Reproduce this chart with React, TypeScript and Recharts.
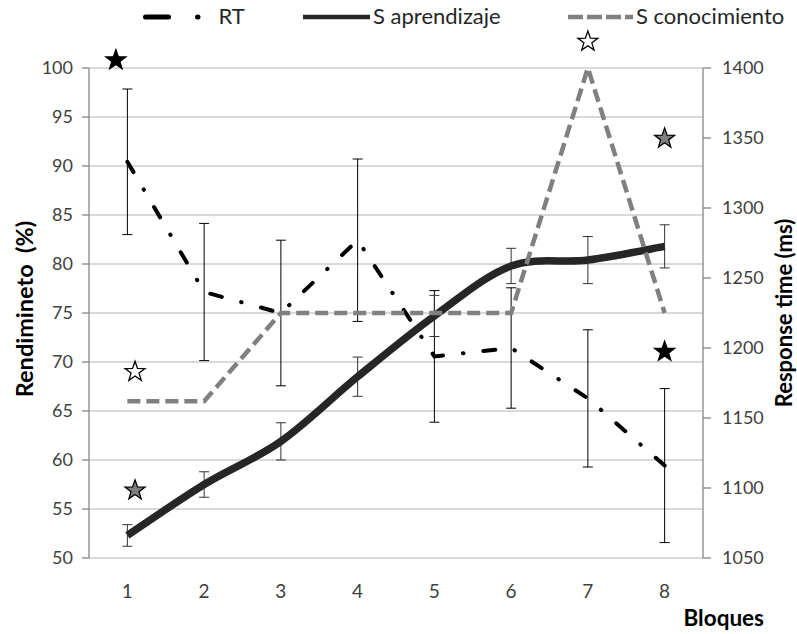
import React from 'react';
import {
  ComposedChart,
  Line,
  XAxis,
  YAxis,
  CartesianGrid,
  ErrorBar,
  Label,
  ReferenceDot,
} from 'recharts';

// Bloques 1..8
const bloques = [1, 2, 3, 4, 5, 6, 7, 8];

// RT (ms, right axis)
const rtMs = [1333, 1240, 1225, 1277, 1194, 1200, 1164, 1116];
const rtErr = [52, 49, 52, 58, 47, 43, 49, 55];

// S aprendizaje (%, left axis)
const sAprendizaje = [52.3, 57.5, 61.9, 68.5, 74.7, 79.8, 80.4, 81.8];
const sAprendizajeErr = [1.1, 1.3, 1.9, 2.0, 2.1, 1.8, 2.4, 2.2];

// S conocimiento (%, left axis)
const sConocimiento = [66, 66, 75, 75, 75, 75, 100, 75];

// significance stars, x in bloque units, y in %
const starsBlack = [
  { bloque: 0.85, valor: 100.8 },
  { bloque: 8, valor: 71.05 },
];
const starsWhite = [
  { bloque: 1.1, valor: 69.0 },
  { bloque: 7, valor: 102.7 },
];
const starsGray = [
  { bloque: 1.1, valor: 56.9 },
  { bloque: 8, valor: 92.8 },
];

const leftTicks = [50, 55, 60, 65, 70, 75, 80, 85, 90, 95, 100];
const rightTicks = [1050, 1100, 1150, 1200, 1250, 1300, 1350, 1400];
const blockEdges = [0.5, 1.5, 2.5, 3.5, 4.5, 5.5, 6.5, 7.5, 8.5];

const data = bloques.map((b, i) => ({
  bloque: b,
  rt: rtMs[i],
  rtErr: rtErr[i],
  apr: sAprendizaje[i],
  aprErr: sAprendizajeErr[i],
  con: sConocimiento[i],
}));

const FONT = 'Lato, "Open Sans", sans-serif';
const AXIS = '#868686';
const GRID = '#b4b4b4';
const TEXT = '#404040';

const RT_DASH = '12 20 0.5 20';
const CON_DASH = '13 6';

// Catmull-Rom style smoothing (like a spreadsheet "smoothed line")
const smoothCurve = (context: any) => {
  let pts: [number, number][] = [];
  return {
    areaStart() {},
    areaEnd() {},
    lineStart() {
      pts = [];
    },
    lineEnd() {
      if (!pts.length) return;
      context.moveTo(pts[0][0], pts[0][1]);
      const t = 1 / 6;
      for (let i = 0; i < pts.length - 1; i++) {
        const p0 = pts[i - 1] || pts[i];
        const p1 = pts[i];
        const p2 = pts[i + 1];
        const p3 = pts[i + 2] || p2;
        context.bezierCurveTo(
          p1[0] + (p2[0] - p0[0]) * t,
          p1[1] + (p2[1] - p0[1]) * t,
          p2[0] - (p3[0] - p1[0]) * t,
          p2[1] - (p3[1] - p1[1]) * t,
          p2[0],
          p2[1],
        );
      }
    },
    point(x: number, y: number) {
      pts.push([+x, +y]);
    },
  };
};

const starPoints = (cx: number, cy: number, R: number, r: number) => {
  const pts: string[] = [];
  for (let i = 0; i < 10; i++) {
    const a = -Math.PI / 2 + (i * Math.PI) / 5;
    const rad = i % 2 === 0 ? R : r;
    pts.push(`${cx + rad * Math.cos(a)},${cy + rad * Math.sin(a)}`);
  }
  return pts.join(' ');
};

const makeStar = (fill: string, stroke: string) => (props: any) => {
  const { cx, cy } = props;
  if (cx == null || cy == null) return <g />;
  return (
    <polygon
      points={starPoints(cx, cy, 10.5, 4.2)}
      fill={fill}
      stroke={stroke}
      strokeWidth={1.3}
    />
  );
};

const LegendItem = ({
  left,
  width,
  lineTo,
  color,
  strokeWidth,
  dash,
  cap,
  text,
}: {
  left: number;
  width: number;
  lineTo: number;
  color: string;
  strokeWidth: number;
  dash?: string;
  cap?: 'round' | 'butt';
  text: string;
}) => (
  <div style={{ position: 'absolute', left, top: 3, display: 'flex', alignItems: 'center' }}>
    <svg width={width} height={26}>
      <line
        x1={cap === 'round' ? strokeWidth / 2 : 0}
        y1={14}
        x2={lineTo}
        y2={14}
        stroke={color}
        strokeWidth={strokeWidth}
        strokeDasharray={dash}
        strokeLinecap={cap || 'butt'}
      />
    </svg>
    <span style={{ fontFamily: FONT, fontSize: 22, color: '#262626', marginLeft: 2, lineHeight: '26px' }}>
      {text}
    </span>
  </div>
);

const AxisTitle = ({ x, cy, size, text }: { x: number; cy: number; size: number; text: string }) => (
  <text
    x={x}
    y={cy}
    transform={`rotate(-90 ${x} ${cy})`}
    textAnchor="middle"
    dominantBaseline="central"
    fontFamily={FONT}
    fontWeight={700}
    fontSize={size}
    fill="#000"
  >
    {text}
  </text>
);

const renderStars = (list: { bloque: number; valor: number }[], fill: string, key: string) =>
  list.map((s, i) => (
    <ReferenceDot
      key={`${key}-${i}`}
      xAxisId="b"
      yAxisId="L"
      x={s.bloque}
      y={s.valor}
      r={10}
      ifOverflow="visible"
      shape={makeStar(fill, '#000')}
    />
  ));

export default function App() {
  return (
    <div style={{ position: 'absolute', left: 0, top: 0, width: 797, height: 634, background: '#fff' }}>
      <LegendItem left={142.5} width={74} lineTo={56} color="#000" strokeWidth={5} dash="23 29 0.5 40" cap="round" text="RT" />
      <LegendItem left={303} width={68} lineTo={67} color="#262626" strokeWidth={4.5} text="S aprendizaje" />
      <LegendItem left={568} width={66} lineTo={65} color="#808080" strokeWidth={4.5} dash="15 4" text="S conocimiento" />

      <ComposedChart
        width={797}
        height={634}
        data={data}
        margin={{ top: 68, right: 0, bottom: 50, left: 0 }}
      >
        <CartesianGrid
          vertical={false}
          stroke={GRID}
          strokeWidth={1.2}
          yAxisId="L"
          xAxisId="b"
        />
        <XAxis
          xAxisId="tk"
          dataKey="bloque"
          type="number"
          domain={[0.5, 8.5]}
          ticks={blockEdges}
          height={0}
          tickSize={8}
          tickFormatter={() => ''}
          axisLine={{ stroke: AXIS, strokeWidth: 1.3 }}
          tickLine={{ stroke: AXIS, strokeWidth: 1.3 }}
        />
        <XAxis
          xAxisId="b"
          dataKey="bloque"
          type="number"
          domain={[0.5, 8.5]}
          ticks={bloques}
          height={26}
          axisLine={false}
          tickLine={false}
          tickSize={8}
          tickMargin={19}
          tick={{ fontFamily: FONT, fontSize: 19, fill: TEXT }}
        >
          <Label
            content={({ viewBox }: any) => (
              <text
                x={viewBox.x + viewBox.width + 61}
                y={626}
                textAnchor="end"
                fontFamily={FONT}
                fontWeight={700}
                fontSize={22.5}
                fill="#000"
              >
                Bloques
              </text>
            )}
          />
        </XAxis>
        <YAxis
          yAxisId="L"
          orientation="left"
          width={89}
          type="number"
          domain={[50, 100]}
          ticks={leftTicks}
          interval={0}
          tickSize={7}
          tickMargin={9}
          axisLine={{ stroke: AXIS, strokeWidth: 1.3 }}
          tickLine={{ stroke: AXIS, strokeWidth: 1.3 }}
          tick={{ fontFamily: FONT, fontSize: 18, fill: TEXT }}
        >
          <Label
            content={({ viewBox }: any) => (
              <AxisTitle x={24} cy={viewBox.y + viewBox.height / 2 - 4} size={23.5} text={'Rendimineto\u00a0 (%)'} />
            )}
          />
        </YAxis>
        <YAxis
          yAxisId="R"
          orientation="right"
          width={94}
          type="number"
          domain={[1050, 1400]}
          ticks={rightTicks}
          interval={0}
          tickSize={8}
          tickMargin={11}
          axisLine={{ stroke: AXIS, strokeWidth: 1.3 }}
          tickLine={{ stroke: AXIS, strokeWidth: 1.3 }}
          tick={{ fontFamily: FONT, fontSize: 18, fill: TEXT }}
        >
          <Label
            content={({ viewBox }: any) => (
              <AxisTitle x={783} cy={viewBox.y + viewBox.height / 2} size={22} text="Response time (ms)" />
            )}
          />
        </YAxis>

        <Line
          xAxisId="b"
          yAxisId="R"
          type="linear"
          dataKey="rt"
          stroke="#000"
          strokeWidth={4}
          strokeDasharray={RT_DASH}
          strokeLinecap="round"
          dot={false}
          activeDot={false}
          isAnimationActive={false}
        >
          <ErrorBar dataKey="rtErr" direction="y" width={5} stroke="#000" strokeWidth={1} />
        </Line>
        <Line
          xAxisId="b"
          yAxisId="L"
          type={smoothCurve as any}
          dataKey="apr"
          stroke="#262626"
          strokeWidth={7.5}
          dot={false}
          activeDot={false}
          isAnimationActive={false}
        >
          <ErrorBar dataKey="aprErr" direction="y" width={5} stroke="#333" strokeWidth={1} />
        </Line>
        <Line
          xAxisId="b"
          yAxisId="L"
          type="linear"
          dataKey="con"
          stroke="#808080"
          strokeWidth={4.5}
          strokeDasharray={CON_DASH}
          dot={false}
          activeDot={false}
          isAnimationActive={false}
        />

        {renderStars(starsBlack, '#000', 'sb')}
        {renderStars(starsWhite, '#fff', 'sw')}
        {renderStars(starsGray, '#7f7f7f', 'sg')}
      </ComposedChart>
    </div>
  );
}
